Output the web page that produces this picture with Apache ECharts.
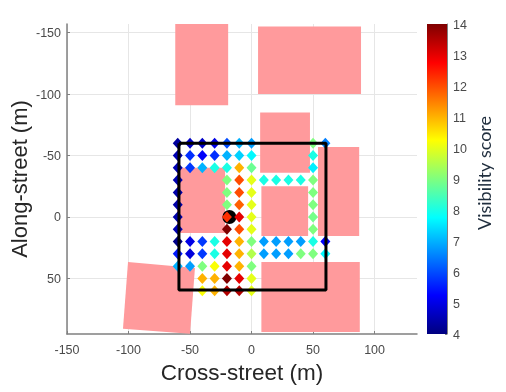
<!DOCTYPE html>
<html>
<head>
<meta charset="utf-8">
<style>html,body{margin:0;padding:0;background:#fff}#chart{width:506px;height:392px}</style>
<script src="https://cdn.jsdelivr.net/npm/echarts@6/dist/echarts.min.js"></script>
</head>
<body>
<div id="chart"></div>
<script>
var jetColors = ['#00007f','#0000ff','#007fff','#00ffff','#7fff7f','#ffff00','#ff7f00','#ff0000','#7f0000']
var xTicks = [-150,-100,-50,0,50,100]
var yTicks = [-150,-100,-50,0,50]

// [x, y, score], one row per along-street position
var row_m60 = [[-60,-60,4.3],[-50,-60,4.7],[-40,-60,4.7],[-30,-60,5],[-20,-60,6],[-10,-60,7],[0,-60,6.8],[50,-60,9],[60,-60,6.5]]
var row_m50 = [[-60,-50,4.5],[-50,-50,5.7],[-40,-50,5.2],[-30,-50,5.7],[-20,-50,7],[-10,-50,7.3],[0,-50,7.7],[50,-50,8]]
var row_m40 = [[-60,-40,4.5],[-50,-40,5.8],[-40,-40,7],[-30,-40,8],[-20,-40,8],[-10,-40,11],[0,-40,8.8],[50,-40,7.6]]
var row_m30 = [[-60,-30,4.5],[-20,-30,9],[-10,-30,12],[0,-30,10],[10,-30,8],[20,-30,8],[30,-30,8],[40,-30,8],[50,-30,9]]
var row_m20 = [[-60,-20,4.4],[-20,-20,9],[-10,-20,12],[0,-20,10],[50,-20,9]]
var row_m10 = [[-60,-10,4.4],[-20,-10,9],[-10,-10,11.8],[0,-10,10],[50,-10,9]]
var row_0 = [[-60,0,4.4],[-20,0,12.3],[-10,0,13],[0,0,10],[50,0,8.9]]
var row_10 = [[-60,10,4.5],[-20,10,14],[-10,10,12],[0,10,10],[50,10,9]]
var row_20 = [[-60,20,4.1],[-50,20,5],[-40,20,5.8],[-30,20,8],[-20,20,13],[-10,20,11],[0,20,9],[10,20,6.8],[20,20,6.8],[30,20,6.8],[40,20,6.8],[50,20,8],[60,20,5.2]]
var row_30 = [[-60,30,5.5],[-50,30,4.9],[-40,30,5.8],[-30,30,8],[-20,30,13],[-10,30,11],[0,30,9.5],[10,30,6.8],[20,30,6.8],[30,30,6.8],[40,30,9],[50,30,9],[60,30,7.7]]
var row_40 = [[-60,40,7],[-50,40,6.8],[-40,40,9],[-30,40,10.2],[-20,40,13],[-10,40,11],[0,40,9]]
var row_50 = [[-40,50,11],[-30,50,11],[-20,50,14],[-10,50,13],[0,50,10]]
var row_60 = [[-40,60,10.2],[-30,60,11],[-20,60,13.5],[-10,60,13.5],[0,60,10]]

// building footprints as corner lists, metres
var building1 = [[-62,-157],[-19,-157],[-19,-91],[-62,-91]]
var building2 = [[5.3,-155],[89,-155],[89,-100],[5.3,-100]]
var building3 = [[7,-85],[47.5,-85],[47.5,-36],[7,-36]]
var building4 = [[8,-25],[46,-25],[46,15.5],[8,15.5]]
var building5 = [[54,-57],[87.5,-57],[87.5,15.5],[54,15.5]]
var building6 = [[-60.5,-40],[-21.5,-40],[-21.5,13],[-60.5,13]]
var building7 = [[8,36.6],[88,36.6],[88,93.6],[8,93.6]]
var building8 = [[-100.4,36.6],[-46,41.5],[-50,95],[-104.5,91]]
var buildings = [building1,building2,building3,building4,building5,building6,building7,building8]

var coverage = [[-59,-60],[60.5,-60],[60.5,59.5],[-59,59.5],[-59,-60]]
var observer = [[-18,0]]
var scores = [].concat(row_m60,row_m50,row_m40,row_m30,row_m20,row_m10,row_0,row_10,row_20,row_30,row_40,row_50,row_60)

var myChart = echarts.init(document.getElementById('chart'))
var axisFont = {color:'#4a4a4a',fontSize:12.5,fontFamily:'Liberation Sans'}
var option = {
  animation:false,
  backgroundColor:'#fff',
  grid:[
    {left:67,right:89,top:24,bottom:58,outerBoundsMode:'none'},
    {left:427,width:20,top:24,height:310,outerBoundsMode:'none'}
  ],
  xAxis:[
    {type:'value',min:-150,max:134.5,name:'Cross-street (m)',nameLocation:'middle',nameGap:28,nameMoveOverlap:false,
      nameTextStyle:{fontSize:22.5,color:'#262626',fontFamily:'Liberation Sans'},
      axisLine:{onZero:false,lineStyle:{color:'#808080',width:1.5}},
      axisTick:{show:true,inside:true,length:3,customValues:xTicks,lineStyle:{color:'#808080'}},
      axisLabel:Object.assign({customValues:xTicks,margin:10},axisFont),
      splitLine:{show:true,lineStyle:{color:'#e6e6e6'}}},
    {gridIndex:1,type:'category',data:['score'],show:false}
  ],
  yAxis:[
    {type:'value',inverse:true,min:-157,max:95.2,name:'Along-street (m)',nameLocation:'middle',nameGap:35,nameMoveOverlap:false,
      nameTextStyle:{fontSize:22,color:'#262626',fontFamily:'Liberation Sans'},
      axisLine:{onZero:false,lineStyle:{color:'#808080',width:1.5}},
      axisTick:{show:true,inside:true,length:3,customValues:yTicks,lineStyle:{color:'#808080'}},
      axisLabel:Object.assign({customValues:yTicks,margin:6,verticalAlign:'top',lineHeight:2},axisFont),
      splitLine:{show:true,lineStyle:{color:'#e6e6e6'}}},
    {gridIndex:1,type:'value',position:'right',min:4,max:14,interval:1,
      axisLine:{show:true,lineStyle:{color:'#808080'}},
      axisTick:{show:true,inside:true,length:2,lineStyle:{color:'#808080'}},
      axisLabel:Object.assign({margin:6,verticalAlign:'top',lineHeight:4},axisFont),
      splitLine:{show:false}}
  ],
  visualMap:{show:false,seriesIndex:1,dimension:2,min:4,max:14,inRange:{color:jetColors}},
  graphic:[{type:'text',x:485,y:173,rotation:Math.PI/2,
    style:{text:'Visibility score',fill:'#1f2d3d',fontSize:18,fontFamily:'Lato',align:'center',verticalAlign:'middle'}}],
  series:[
    {type:'custom',coordinateSystem:'cartesian2d',z:2,silent:true,data:buildings.map(function(b,i){return [i]}),
      renderItem:function(params,api){
        var corners = buildings[api.value(0)].map(function(p){return api.coord(p)})
        return {type:'polygon',shape:{points:corners},style:{fill:'#ff9a9c'}}
      },encode:{x:[],y:[]}},
    {type:'scatter',symbol:'diamond',symbolSize:[10,11],z:5,data:scores,itemStyle:{opacity:1}},
    {type:'line',data:coverage,z:6,symbol:'none',lineStyle:{color:'#000',width:3},silent:true},
    {type:'scatter',data:observer,z:4,symbol:'circle',symbolSize:14,itemStyle:{color:'#000',opacity:1}},
    {type:'bar',xAxisIndex:1,yAxisIndex:1,data:[14],barWidth:'100%',silent:true,
      itemStyle:{color:new echarts.graphic.LinearGradient(0,1,0,0,jetColors.map(function(c,i){
        return {offset:i/(jetColors.length-1),color:c}
      }))}}
  ]
}
myChart.setOption(option)
</script>
</body>
</html>
